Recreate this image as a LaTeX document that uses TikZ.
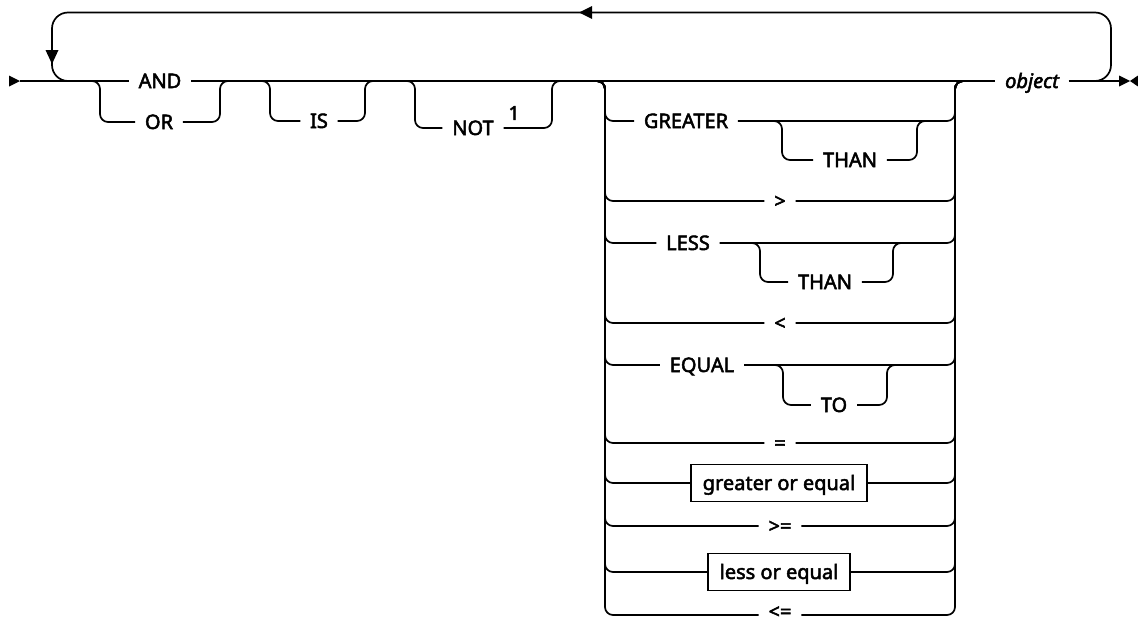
\documentclass[tikz,border=0pt]{standalone}
\usepackage{fontspec}
\setmainfont{Noto Sans}
\newfontfamily\dgfont{Noto Sans}[FakeBold=2.5]
\begin{document}
\begin{tikzpicture}[x=1pt,y=-1pt,line width=1.7pt,
  lbl/.style={inner xsep=9pt,inner ysep=0pt,text height=14pt,text depth=0pt,font=\dgfont\fontsize{20}{20}\selectfont},
  opbox/.style={draw,line width=1.3pt,inner xsep=0pt,inner ysep=0pt,minimum height=37pt,text height=14pt,text depth=0pt,font=\dgfont\fontsize{20}{20}\selectfont},
  rr/.style={rounded corners=8pt},
  tip/.style={fill=black,draw=none}]
\useasboundingbox (0,0) rectangle (1138,621);

% ---- nodes
\node[lbl] (and) at (160,81) {AND};
\node[lbl] (or) at (159,122) {OR};
\node[lbl] (is) at (319,121) {IS};
\node[lbl] (not) at (473,128) {NOT};
\node[inner sep=0pt,font=\dgfont\fontsize{19}{19}\selectfont] (fn) at (514,113) {1};
\node[lbl] (obj) at (1032,81) {\itshape object};

\node[lbl] (gt1) at (686,121) {GREATER};
\node[lbl] (than1) at (850,160) {THAN};
\node[lbl] (gt2) at (780,201) {>};
\node[lbl] (ls1) at (688,243) {LESS};
\node[lbl] (than2) at (825,282) {THAN};
\node[lbl] (ls2) at (780,323) {<};
\node[lbl] (eq1) at (702,365) {EQUAL};
\node[lbl] (to) at (834,405) {TO};
\node[lbl] (eq2) at (780,443) {=};
\node[opbox,minimum width=176pt] (goe) at (779,483) {greater or equal};
\node[lbl] (ge) at (780,526) {>=};
\node[opbox,minimum width=142pt] (loe) at (779,572) {less or equal};
\node[lbl,text height=9pt] (le) at (780,614) {<=};

% ---- free ends
\coordinate (s) at (20,81);
\coordinate (e) at (1120,81);
\coordinate (lA) at (1095,81);
\coordinate (lB) at (68,81);
\coordinate (orA) at (92,81);
\coordinate (orB) at (228,81);
\coordinate (isA) at (262,81);
\coordinate (isB) at (373,81);
\coordinate (notA) at (407,81);
\coordinate (notB) at (560,81);
\coordinate (bA) at (597,81);
\coordinate (bB) at (963,81);
\coordinate (t1A) at (774,121);
\coordinate (t1B) at (925,121);
\coordinate (t2A) at (752,243);
\coordinate (t2B) at (901,243);
\coordinate (toA) at (775,365);
\coordinate (toB) at (895,365);

% ---- main line
\draw (s) -- (and.west);
\draw (and.east) -- (obj.west);
\draw (obj.east) -- (e);

% ---- repeat loop
\draw[rounded corners=16pt] (lA) -- (1111,81) -- (1111,12.5) -- (52,12.5) -- (52,81) -- (lB);

% ---- AND / OR
\draw[rr] (orA) -- (100,81) -- (100,122) -- (or.west);
\draw[rr] (or.east) -- (220,122) -- (220,81) -- (orB);

% ---- IS
\draw[rr] (isA) -- (270,81) -- (270,121) -- (is.west);
\draw[rr] (is.east) -- (365,121) -- (365,81) -- (isB);

% ---- NOT
\draw[rr] (notA) -- (415,81) -- (415,128) -- (not.west);
\draw[rr] (not.east) -- (552,128) -- (552,81) -- (notB);

% ---- operator choice
\foreach \n/\y in {gt1/121,gt2/201,ls1/243,ls2/323,eq1/365,eq2/443,goe/483,ge/526,loe/572,le/615}{
  \draw[rr] (bA) -- (605,81) -- (605,\y) -- (\n.west |- 0,\y);
  \draw[rr] (\n.east |- 0,\y) -- (955,\y) -- (955,81) -- (bB);
}

% ---- THAN / TO sub-branches
\draw[rr] (t1A) -- (782,121) -- (782,160) -- (than1.west);
\draw[rr] (than1.east) -- (917,160) -- (917,121) -- (t1B);
\draw[rr] (t2A) -- (760,243) -- (760,282) -- (than2.west);
\draw[rr] (than2.east) -- (893,282) -- (893,243) -- (t2B);
\draw[rr] (toA) -- (783,365) -- (783,405) -- (to.west);
\draw[rr] (to.east) -- (887,405) -- (887,365) -- (toB);

% ---- arrowheads
\fill[tip] (9,75.5) -- (20,81) -- (9,86.5) -- cycle;
\fill[tip] (1119,75.5) -- (1130,81) -- (1119,86.5) -- cycle;
\fill[tip] (1138,75.5) -- (1130,81) -- (1138,86.5) -- cycle;
\fill[tip] (579,12.5) -- (592,6) -- (592,19) -- cycle;
\fill[tip] (52,64) -- (45.5,50) -- (58.5,50) -- cycle;
\end{tikzpicture}
\end{document}
